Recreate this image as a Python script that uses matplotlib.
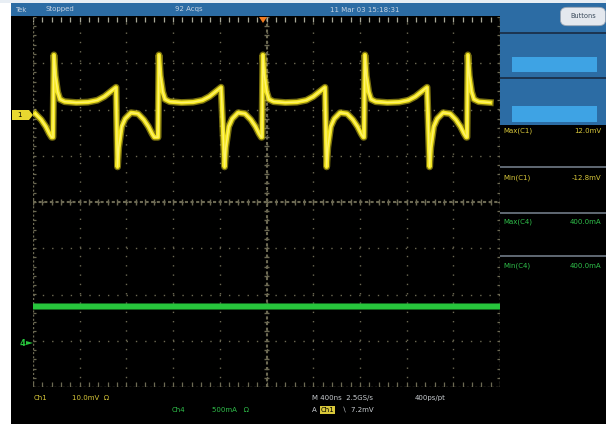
import matplotlib.pyplot as plt
import numpy as np
from matplotlib.patches import Rectangle, FancyBboxPatch, Polygon

# Ch1 (yellow) - edge times, ns
ch1_rise_ns = [171, 1071, 1961, 2835, 3717]
ch1_fall_ns = [-160, 719, 1636, 2510, 3392]
# shape after a rising edge (ns after edge, mV)
hi_dt = [0, 8, 20, 40, 60, 100, 200, 300, 380, 440, 500, 540]
hi_mv = [-4.8, 13.0, 8.5, 5.0, 3.4, 2.9, 2.7, 2.8, 3.2, 4.0, 5.2, 6.0]
# shape after a falling edge
lo_dt = [5, 15, 40, 70, 120, 180, 230, 270, 300, 320]
lo_mv = [-11.2, -7.0, -2.5, -0.8, 0.5, 0.3, -1.0, -2.5, -4.0, -4.8]

# Ch4 (green) current, flat
ch4_t = [0, 4000]
ch4_ma = [400, 400]

ch1_scale = 10.0    # mV/div
ch4_scale = 500.0   # mA/div
ch1_offset = 1.88   # div
ch4_offset = -3.05

header_texts = [("Tek", 15), ("Stopped", 45), ("92 Acqs", 175), ("11 Mar 03 15:18:31", 330)]
meas_labels = ["Max(C1)", "Min(C1)", "Max(C4)", "Min(C4)"]
meas_values = ["12.0mV", "-12.8mV", "400.0mA", "400.0mA"]

W, H = 606, 424
YEL = "#f3e51f"
GRN = "#27c53c"
GRAT = "#6c6953"
BLUE = "#2c6ca4"


def fx(px):
    return px / W


def fy(py):
    return 1 - py / H


def rect(fig, x0, y0, x1, y1, color, **kw):
    fig.add_artist(Rectangle((fx(x0), fy(y1)), (x1 - x0) / W, (y1 - y0) / H,
                             transform=fig.transFigure, facecolor=color,
                             edgecolor="none", **kw))


fig = plt.figure(figsize=(6.06, 4.24), dpi=100, facecolor="black")

# screen chrome
rect(fig, 0, 0, 11, H, "white")
rect(fig, 0, 0, W, 3, "#e8eef4")
rect(fig, 11, 3, W, 16, BLUE)
rect(fig, 500, 16, W, 125, BLUE)
rect(fig, 500, 32, W, 34, "#1c3552")
rect(fig, 500, 77, W, 79, "#1c3552")
rect(fig, 512, 57, 597, 72, "#3ea3e4")
rect(fig, 512, 106, 597, 122, "#3ea3e4")
for sy in [167, 213, 256]:
    rect(fig, 500, sy - 1, W, sy + 1, "#5d6670")

fig.add_artist(FancyBboxPatch((fx(563), fy(24)), 40 / W, 15 / H,
                              boxstyle="round,pad=0.004,rounding_size=0.012",
                              transform=fig.transFigure, facecolor="#e4e8ee",
                              edgecolor="#9aa6b4", lw=0.6))
fig.text(fx(583), fy(16.5), "Buttons", color="#3a4a5a", fontsize=4.8,
         ha="center", va="center")

for txt, px in header_texts:
    fig.text(fx(px), fy(9.5), txt, color="#c6d3e2", fontsize=5, va="center")

for i, (lab, val) in enumerate(zip(meas_labels, meas_values)):
    py = [131, 178, 222, 266][i]
    col = "#d9c83a" if i < 2 else "#2fbf4a"
    fig.text(fx(503), fy(py), lab, color=col, fontsize=5, va="center")
    fig.text(fx(601), fy(py), val, color=col, fontsize=5, va="center", ha="right")

# bottom readouts
fig.text(fx(34), fy(398), "Ch1", color="#d9c83a", fontsize=5, va="center")
fig.text(fx(72), fy(398), "10.0mV  \u03a9", color="#d9c83a", fontsize=5, va="center")
fig.text(fx(172), fy(410), "Ch4", color="#2fbf4a", fontsize=5, va="center")
fig.text(fx(212), fy(410), "500mA   \u03a9", color="#2fbf4a", fontsize=5, va="center")
fig.text(fx(312), fy(398), "M 400ns  2.5GS/s", color="#c8ccd0", fontsize=5, va="center")
fig.text(fx(415), fy(398), "400ps/pt", color="#c8ccd0", fontsize=5, va="center")
fig.text(fx(312), fy(410), "A", color="#c8ccd0", fontsize=5, va="center")
fig.text(fx(321), fy(410), "Ch1", color="black", fontsize=5, va="center",
         bbox=dict(boxstyle="square,pad=0.1", fc="#d9c83a", ec="none"))
fig.text(fx(342), fy(410), "\u2216  7.2mV", color="#c8ccd0", fontsize=5, va="center")

# graticule axes
ax = fig.add_axes([fx(33), fy(387), (500 - 33) / W, (387 - 17) / H])
ax.set_facecolor("black")
ax.set_xlim(0, 4000)
ax.set_ylim(-4, 4)
ax.axis("off")

for k in range(1, 10):
    ax.axvline(k * 400, color=GRAT, lw=1.0, ls=(0, (1, 5.7)), zorder=1)
for k in range(-3, 4):
    ax.axhline(k, color=GRAT, lw=1.0, ls=(0, (1, 5.7)), zorder=1)
ax.axvline(2000, color=GRAT, lw=1.5, ls=(0, (1.5, 1.2)), zorder=1)
ax.axhline(0, color=GRAT, lw=1.5, ls=(0, (1.5, 1.2)), zorder=1)
minor_x = np.arange(0, 4001, 80)
minor_y = np.arange(-4, 4.01, 0.2)
ax.vlines(minor_x, -0.06, 0.06, color=GRAT, lw=1.0, zorder=1)
ax.hlines(minor_y, 1975, 2025, color=GRAT, lw=1.0, zorder=1)
ax.vlines(minor_x, 3.9, 4.0, color="#a8a898", lw=0.9, zorder=1)
ax.vlines(minor_x, -4.0, -3.9, color=GRAT, lw=0.9, zorder=1)
ax.hlines(minor_y, 0, 25, color=GRAT, lw=0.9, zorder=1)
ax.hlines(minor_y, 3975, 4000, color=GRAT, lw=0.9, zorder=1)
for xe in [0, 4000]:
    ax.axvline(xe, color=GRAT, lw=1.0, ls=(0, (1.5, 1.5)), zorder=1)
ax.axhline(-4, color=GRAT, lw=1.0, ls=(0, (1.5, 1.5)), zorder=1)

# build Ch1 trace from edges and shapes
pts = []
for r in ch1_rise_ns:
    pts += [(r + d, v) for d, v in zip(hi_dt, hi_mv)]
for f in ch1_fall_ns:
    pts += [(f + d, v) for d, v in zip(lo_dt, lo_mv)]
pts.sort()
t1 = np.array([p[0] for p in pts], float)
v1 = np.array([p[1] for p in pts], float)
keep = (t1 >= 0) & (t1 <= 4000)
t1, y1 = t1[keep], v1[keep] / ch1_scale + ch1_offset

ax.plot(t1, y1, color="#d8c81c", lw=5.0, alpha=0.55, solid_joinstyle="round", zorder=3)
ax.plot(t1, y1, color=YEL, lw=3.0, solid_joinstyle="round", zorder=4)
ax.plot(t1, y1, color="#fff46e", lw=1.0, zorder=5)

y4 = np.array(ch4_ma) / ch4_scale + ch4_offset
ax.plot(ch4_t, y4, color=GRN, lw=5.0, alpha=0.45, zorder=3)
ax.plot(ch4_t, y4, color=GRN, lw=3.8, zorder=4)

# ground and trigger markers
fig.add_artist(Polygon([[fx(12), fy(110)], [fx(29), fy(110)], [fx(33), fy(115)],
                        [fx(29), fy(120)], [fx(12), fy(120)]],
                       transform=fig.transFigure, facecolor="#e8d830", edgecolor="none"))
fig.text(fx(19), fy(115), "1", color="black", fontsize=5, va="center", ha="center")
fig.text(fx(22), fy(343), "4", color=GRN, fontsize=6, va="center", ha="center",
         fontweight="bold")
fig.add_artist(Polygon([[fx(26), fy(341)], [fx(33), fy(343)], [fx(26), fy(345)]],
                       transform=fig.transFigure, facecolor=GRN, edgecolor="none"))
fig.add_artist(Polygon([[fx(259), fy(17)], [fx(267), fy(17)], [fx(263), fy(23)]],
                       transform=fig.transFigure, facecolor="#f07a20", edgecolor="none"))

fig.savefig("out.png", dpi=100, facecolor="black")
